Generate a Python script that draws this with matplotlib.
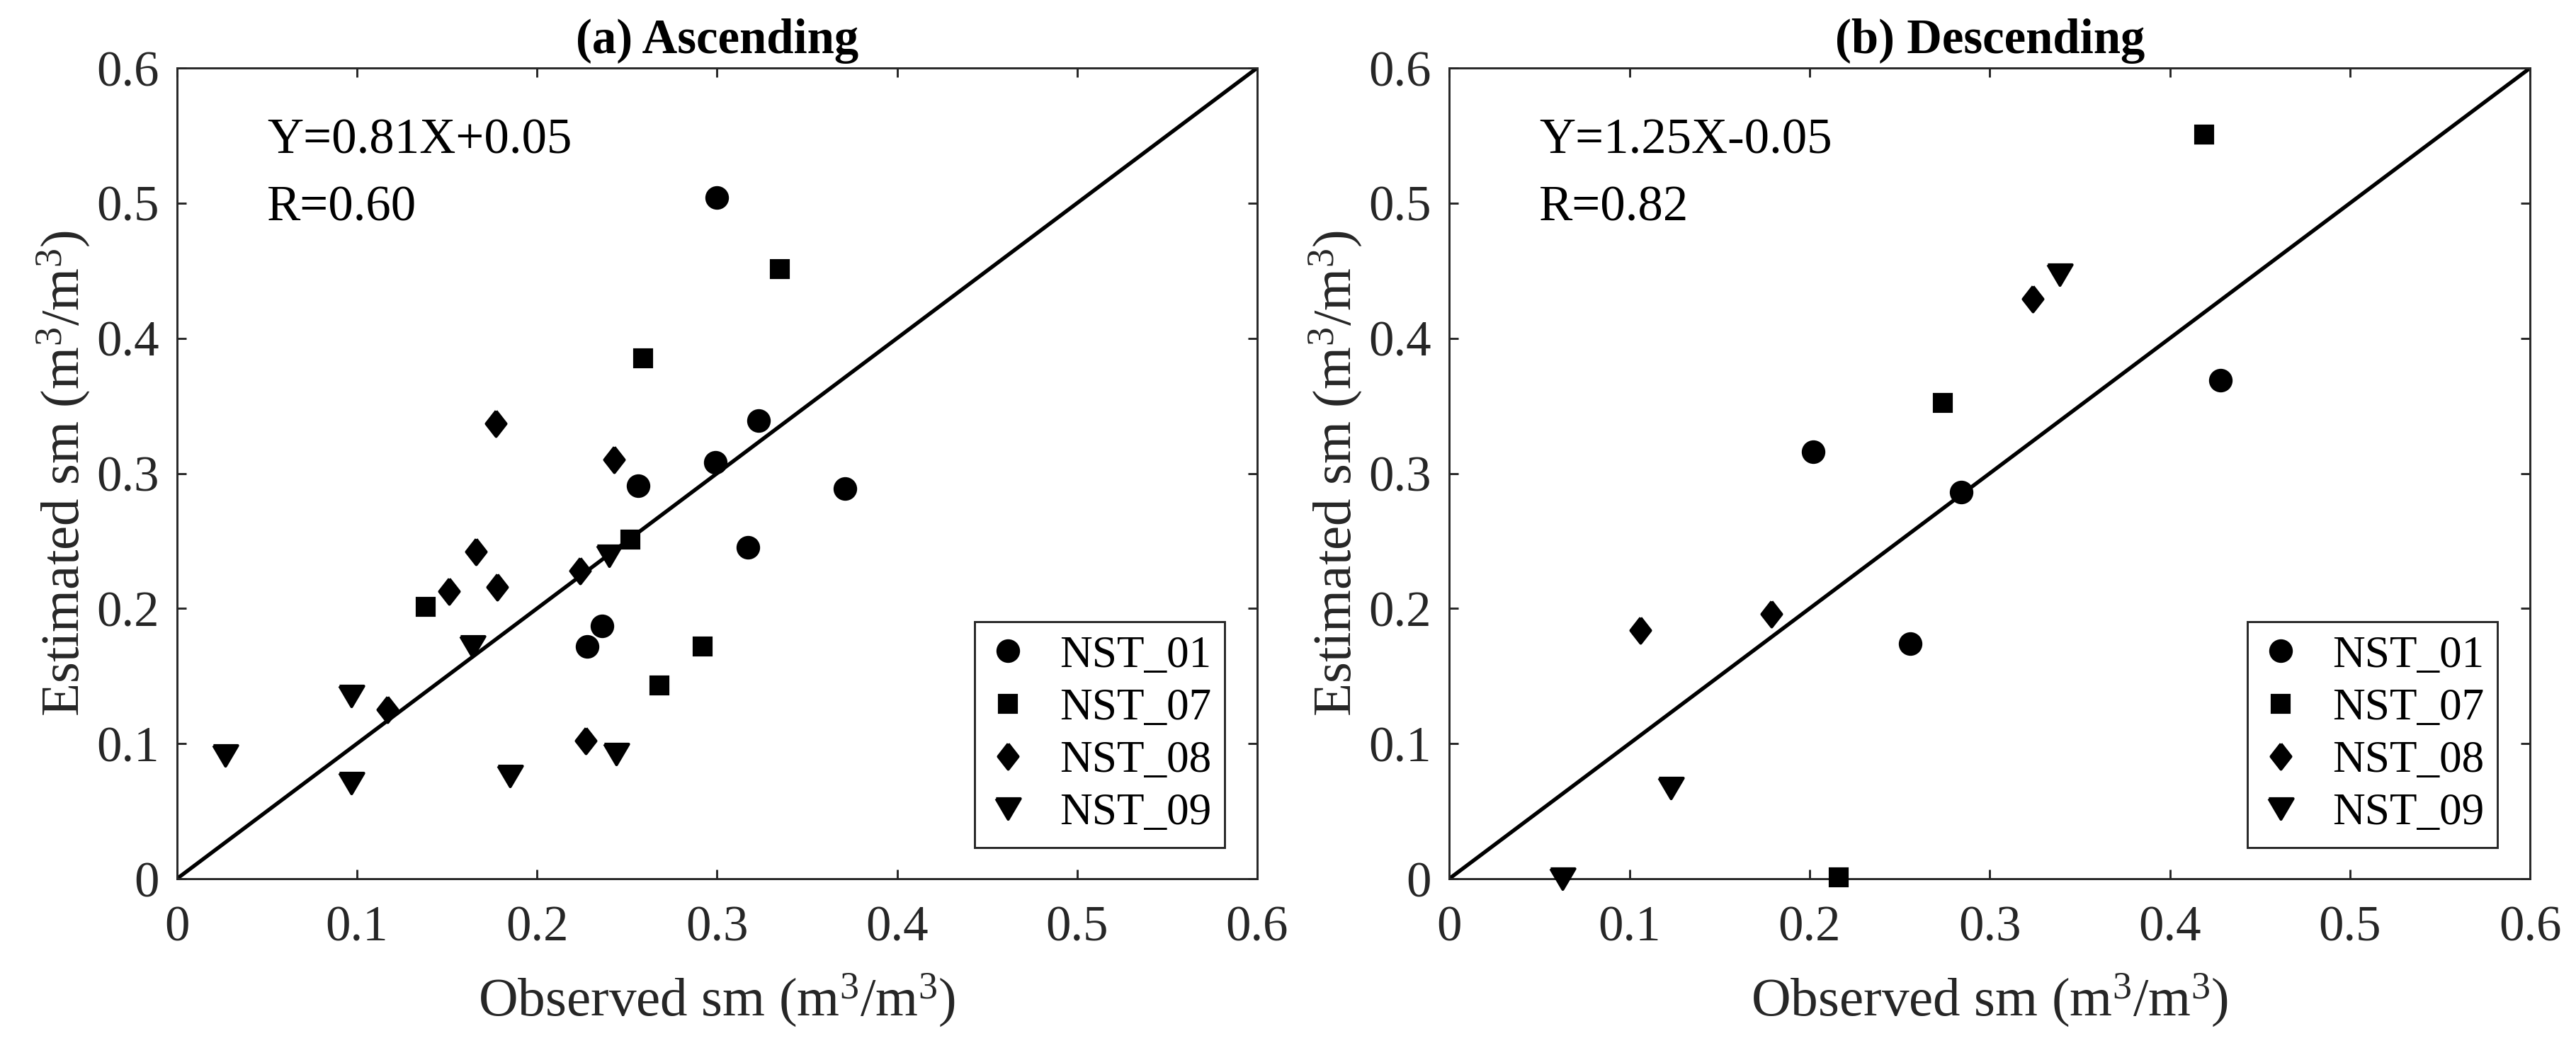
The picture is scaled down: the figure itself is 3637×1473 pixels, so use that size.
import matplotlib
matplotlib.use("Agg")
import matplotlib.pyplot as plt
from matplotlib.ticker import FixedLocator, FormatStrFormatter

plt.rcParams["font.family"] = "serif"
plt.rcParams["font.serif"] = ["Liberation Serif", "DejaVu Serif"]
plt.rcParams["mathtext.fontset"] = "custom"
plt.rcParams["mathtext.rm"] = "Liberation Serif"
plt.rcParams["mathtext.default"] = "regular"

stations = ["NST_01", "NST_07", "NST_08", "NST_09"]

# (a) Ascending
asc_x = {
    "NST_01": [0.300, 0.323, 0.299, 0.256, 0.371, 0.317, 0.236, 0.228],
    "NST_07": [0.335, 0.259, 0.252, 0.138, 0.292, 0.268],
    "NST_08": [0.177, 0.243, 0.166, 0.151, 0.178, 0.224, 0.117, 0.227],
    "NST_09": [0.027, 0.097, 0.097, 0.164, 0.240, 0.185, 0.244],
}
asc_y = {
    "NST_01": [0.504, 0.339, 0.308, 0.291, 0.289, 0.245, 0.187, 0.172],
    "NST_07": [0.451, 0.385, 0.251, 0.201, 0.172, 0.143],
    "NST_08": [0.337, 0.310, 0.242, 0.213, 0.216, 0.228, 0.125, 0.102],
    "NST_09": [0.091, 0.135, 0.071, 0.172, 0.239, 0.076, 0.092],
}

# (b) Descending
desc_x = {
    "NST_01": [0.202, 0.284, 0.428, 0.256],
    "NST_07": [0.419, 0.274, 0.216],
    "NST_08": [0.106, 0.179, 0.324],
    "NST_09": [0.339, 0.123, 0.063],
}
desc_y = {
    "NST_01": [0.316, 0.286, 0.369, 0.174],
    "NST_07": [0.551, 0.352, 0.001],
    "NST_08": [0.184, 0.196, 0.429],
    "NST_09": [0.447, 0.067, 0.000],
}

titles = ["(a) Ascending", "(b) Descending"]
eq_texts = [["Y=0.81X+0.05", "R=0.60"], ["Y=1.25X-0.05", "R=0.82"]]
ticks = [0, 0.1, 0.2, 0.3, 0.4, 0.5, 0.6]
lims = [0, 0.6]

diamond = [(0, 1), (0.78, 0), (0, -1), (-0.78, 0), (0, 1)]
tri_down = [(-1, 0.85), (1, 0.85), (0, -0.85), (-1, 0.85)]
styles = {
    "NST_01": dict(marker="o", markersize=7),
    "NST_07": dict(marker="s", markersize=5.6),
    "NST_08": dict(marker=diamond, markersize=8.6),
    "NST_09": dict(marker=tri_down, markersize=8.2),
}

grey = "#262626"
fig = plt.figure(figsize=(3637 / 300, 1473 / 300), dpi=300)
axes = [fig.add_axes([0.0687, 0.1575, 0.4193, 0.7773]),
        fig.add_axes([0.5626, 0.1575, 0.4196, 0.7773])]

for ax, xs, ys, title, txt in zip(axes, [asc_x, desc_x], [asc_y, desc_y], titles, eq_texts):
    # линия 1:1
    ax.plot(lims, lims, color="black", linewidth=1.3, zorder=2)
    for st in stations:
        ax.plot(xs[st], ys[st], linestyle="none", color="black",
                markerfacecolor="black", markeredgecolor="black",
                label=st, clip_on=False, zorder=3, **styles[st])

    ax.set_xlim(lims)
    ax.set_ylim(lims)
    ax.xaxis.set_major_locator(FixedLocator(ticks))
    ax.yaxis.set_major_locator(FixedLocator(ticks))
    ax.xaxis.set_major_formatter(FormatStrFormatter("%g"))
    ax.yaxis.set_major_formatter(FormatStrFormatter("%g"))
    ax.tick_params(direction="in", top=True, right=True, length=3.2, width=0.7,
                   color=grey, labelcolor=grey, labelsize=17)
    ax.tick_params(axis="x", pad=9)
    ax.tick_params(axis="y", pad=6)
    for sp in ax.spines.values():
        sp.set_color(grey)
        sp.set_linewidth(0.7)

    ax.set_title(title, fontsize=16.5, fontweight="bold", pad=5)
    ax.set_xlabel("Observed sm (m$^3$/m$^3$)", fontsize=18.5, color=grey, labelpad=7)
    ax.set_ylabel("Estimated sm (m$^3$/m$^3$)", fontsize=18.5, color=grey, labelpad=1.5)

    ax.text(0.05, 0.537, txt[0], fontsize=17, va="baseline", ha="left")
    ax.text(0.05, 0.487, txt[1], fontsize=17, va="baseline", ha="left")

    leg = ax.legend(loc="lower right", bbox_to_anchor=(0.970, 0.0384),
                    borderaxespad=0, fontsize=15.2, numpoints=1,
                    handlelength=0.9, handletextpad=0.7, labelspacing=0.25,
                    borderpad=0.3, fancybox=False, framealpha=1)
    leg.get_frame().set_edgecolor(grey)
    leg.get_frame().set_linewidth(0.7)

fig.savefig("out.png", dpi=300)
